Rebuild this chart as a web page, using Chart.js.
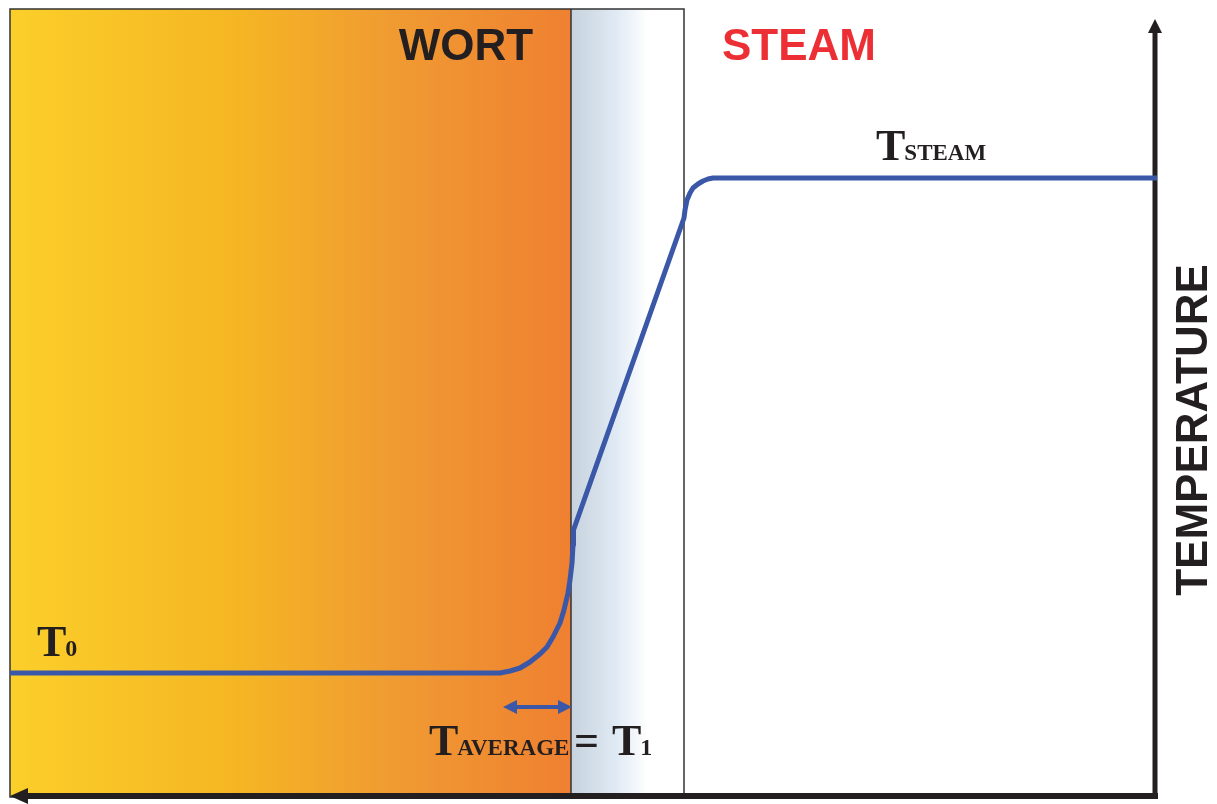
<!DOCTYPE html>
<html>
<head>
<meta charset="utf-8">
<title>Wort heating temperature profile</title>
<script src="https://cdn.jsdelivr.net/npm/chart.js@4/dist/chart.umd.min.js"></script>
<style>
  html, body { margin: 0; padding: 0; background: #fff; }
  #wrap { width: 1217px; height: 804px; position: relative; }
</style>
</head>
<body>
<div id="wrap"><canvas id="chart"></canvas></div>
<script>
'use strict';

// distance across the wort / wall / steam (schematic units, left to right)
const positions = [10, 500, 510, 520, 530, 540, 547, 553, 560, 564, 568, 570, 572, 573, 573.5,
  684, 685, 687, 690, 693, 698, 703, 708, 713, 1157];
// temperature at each position (schematic units, higher = hotter)
const temperatures = [131, 131, 133, 136, 142, 150, 157, 167, 181, 194, 211, 224, 241, 259, 274,
  586, 594, 604, 611, 616, 620, 623, 625, 626, 626];

// zone boundaries
const wortZone = [10, 571];
const wallZone = [571, 684];
const frameTop = 795;
const frameBottom = 7;

// labels
const zoneLabels = ['WORT', 'STEAM'];
const axisTitle = 'TEMPERATURE';

// draws the coloured zones, the frame and the arrows behind the curve
const backdrop = {
  id: 'backdrop',
  beforeDatasetsDraw(chart) {
    const ctx = chart.ctx;
    const x = chart.scales.x;
    const y = chart.scales.y;
    const top = y.getPixelForValue(frameTop);
    const bottom = y.getPixelForValue(frameBottom);

    // wort gradient
    let x0 = x.getPixelForValue(wortZone[0]);
    let x1 = x.getPixelForValue(wortZone[1]);
    let grad = ctx.createLinearGradient(x0, 0, x1, 0);
    grad.addColorStop(0, '#fbcf2a');
    grad.addColorStop(0.4, '#f5b623');
    grad.addColorStop(0.68, '#f09b32');
    grad.addColorStop(1, '#ef8031');
    ctx.save();
    ctx.fillStyle = grad;
    ctx.fillRect(x0, top, x1 - x0, bottom - top);

    // wall gradient
    let w0 = x.getPixelForValue(wallZone[0]);
    let w1 = x.getPixelForValue(wallZone[1]);
    grad = ctx.createLinearGradient(w0, 0, w1, 0);
    grad.addColorStop(0, '#c6d2dd');
    grad.addColorStop(0.4, '#e0eaf4');
    grad.addColorStop(0.68, '#ffffff');
    grad.addColorStop(1, '#ffffff');
    ctx.fillStyle = grad;
    ctx.fillRect(w0, top, w1 - w0, bottom - top);

    // frame
    ctx.strokeStyle = '#333';
    ctx.lineWidth = 1.5;
    ctx.strokeRect(x0, top, w1 - x0, bottom - top);
    ctx.beginPath();
    ctx.moveTo(w0, top);
    ctx.lineTo(w0, bottom);
    ctx.stroke();

    // horizontal arrow (pointing left)
    const axY = y.getPixelForValue(8);
    const axRight = x.getPixelForValue(1158);
    ctx.fillStyle = '#231f20';
    ctx.fillRect(x0 + 14, axY - 3, axRight - x0 - 14, 6);
    ctx.beginPath();
    ctx.moveTo(x0, axY);
    ctx.lineTo(x0 + 18, axY - 8);
    ctx.lineTo(x0 + 18, axY + 8);
    ctx.closePath();
    ctx.fill();

    // vertical arrow (pointing up)
    const axX = x.getPixelForValue(1155);
    const tip = y.getPixelForValue(785);
    ctx.fillRect(axX - 2.5, tip + 12, 5, axY + 3 - tip - 12);
    ctx.beginPath();
    ctx.moveTo(axX, tip);
    ctx.lineTo(axX - 7, tip + 14);
    ctx.lineTo(axX + 7, tip + 14);
    ctx.closePath();
    ctx.fill();

    // double arrow marking the boundary layer
    const dy = y.getPixelForValue(97);
    const dl = x.getPixelForValue(503);
    const dr = x.getPixelForValue(572);
    ctx.strokeStyle = '#3b58a8';
    ctx.fillStyle = '#3b58a8';
    ctx.lineWidth = 4;
    ctx.beginPath();
    ctx.moveTo(dl + 8, dy);
    ctx.lineTo(dr - 8, dy);
    ctx.stroke();
    ctx.beginPath();
    ctx.moveTo(dl, dy);
    ctx.lineTo(dl + 14, dy - 7);
    ctx.lineTo(dl + 14, dy + 7);
    ctx.closePath();
    ctx.fill();
    ctx.beginPath();
    ctx.moveTo(dr, dy);
    ctx.lineTo(dr - 14, dy - 7);
    ctx.lineTo(dr - 14, dy + 7);
    ctx.closePath();
    ctx.fill();
    ctx.restore();
  },

  afterDatasetsDraw(chart) {
    const ctx = chart.ctx;
    const x = chart.scales.x;
    const y = chart.scales.y;
    ctx.save();
    ctx.textBaseline = 'alphabetic';

    // zone titles
    ctx.font = 'bold 44px "Liberation Sans", Arial, sans-serif';
    ctx.textAlign = 'center';
    ctx.fillStyle = '#231f20';
    ctx.fillText(zoneLabels[0], x.getPixelForValue(466), y.getPixelForValue(744));
    ctx.fillStyle = '#ec2f35';
    ctx.fillText(zoneLabels[1], x.getPixelForValue(799), y.getPixelForValue(744));

    // axis title
    ctx.fillStyle = '#231f20';
    ctx.translate(x.getPixelForValue(1207), y.getPixelForValue(374));
    ctx.rotate(-Math.PI / 2);
    ctx.fillText(axisTitle, 0, 0);
    ctx.setTransform(1, 0, 0, 1, 0, 0);

    // T with small subscript
    function tLabel(px, py, sub, subSize) {
      ctx.textAlign = 'left';
      ctx.font = 'bold 44px "Liberation Serif", "Times New Roman", serif';
      ctx.fillText('T', px, py);
      const w = ctx.measureText('T').width;
      ctx.font = 'bold ' + subSize + 'px "Liberation Serif", "Times New Roman", serif';
      ctx.fillText(sub, px + w - 1, py);
      return px + w - 1 + ctx.measureText(sub).width;
    }
    ctx.fillStyle = '#231f20';
    tLabel(x.getPixelForValue(37), y.getPixelForValue(148), '0', 24);
    tLabel(x.getPixelForValue(876), y.getPixelForValue(644), 'STEAM', 23);
    tLabel(x.getPixelForValue(429), y.getPixelForValue(49), 'AVERAGE', 23);
    ctx.font = 'bold 44px "Liberation Serif", "Times New Roman", serif';
    ctx.textAlign = 'left';
    ctx.fillText('=', x.getPixelForValue(574), y.getPixelForValue(49));
    tLabel(x.getPixelForValue(612), y.getPixelForValue(49), '1', 24);
    ctx.restore();
  }
};

const canvas = document.getElementById('chart');
canvas.width = 1217;
canvas.height = 804;

let chart = new Chart(canvas, {
  type: 'line',
  data: {
    datasets: [{
      label: 'Temperature',
      data: positions.map((p, i) => ({ x: p, y: temperatures[i] })),
      borderColor: '#3b58a8',
      borderWidth: 5,
      pointRadius: 0,
      fill: false,
      tension: 0,
      borderCapStyle: 'butt',
      borderJoinStyle: 'round'
    }]
  },
  options: {
    responsive: false,
    animation: false,
    devicePixelRatio: 1,
    layout: { padding: 0 },
    plugins: {
      legend: { display: false },
      tooltip: { enabled: false }
    },
    scales: {
      x: { type: 'linear', min: 0, max: 1217, display: false },
      y: { type: 'linear', min: 0, max: 804, display: false }
    }
  },
  plugins: [backdrop]
});
</script>
</body>
</html>
